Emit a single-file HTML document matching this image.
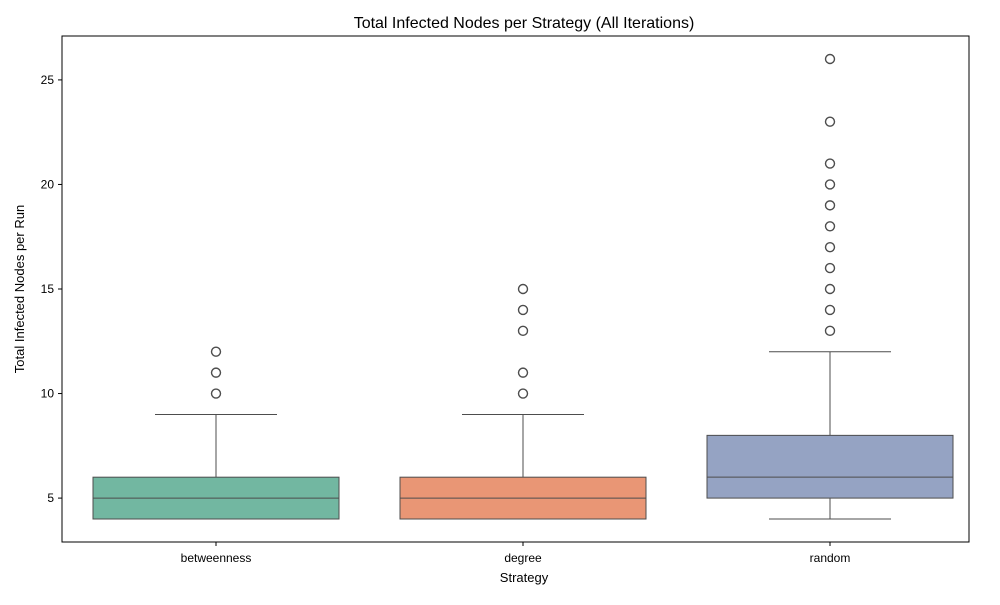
<!DOCTYPE html>
<html><head><meta charset="utf-8"><style>
body{margin:0;background:#fff;font-family:"Liberation Sans","DejaVu Sans",sans-serif}
svg text{font-family:"Liberation Sans","DejaVu Sans",sans-serif;fill:#000}
</style></head><body>
<svg id="chart" width="1000" height="600" xmlns="http://www.w3.org/2000/svg">
<rect width="1000" height="600" fill="#fff"/>
<text x="524" y="28" font-size="16" text-anchor="middle">Total Infected Nodes per Strategy (All Iterations)</text>
<text x="524" y="582" font-size="13" text-anchor="middle">Strategy</text>
<text transform="translate(24,289) rotate(-90)" font-size="13" text-anchor="middle">Total Infected Nodes per Run</text>
<g id="plot"></g>
<rect x="62" y="36" width="907" height="506" fill="none" stroke="#000" stroke-width="1"/>
</svg>
<script>
const categories = ["betweenness","degree","random"];
const q1 = [4,4,5];
const medians = [5,5,6];
const q3 = [6,6,8];
const whiskerLow = [4,4,4];
const whiskerHigh = [9,9,12];
const outliers = [[10,11,12],[10,11,13,14,15],[13,14,15,16,17,18,19,20,21,23,26]];
const colors = ["#72b7a1","#e99675","#95a3c3"];
const yTicks = [5,10,15,20,25];

const ns="http://www.w3.org/2000/svg";
const g=document.getElementById('plot');
const L=62,R=969,T=36,B=542;
const yMin=2.9,yMax=27.1;
const y=v=>B-(v-yMin)/(yMax-yMin)*(B-T);
const step=307;
const x=i=>216+step*i;
function mk(tag,attrs){const e=document.createElementNS(ns,tag);for(const k in attrs)e.setAttribute(k,attrs[k]);g.appendChild(e);return e;}
yTicks.forEach(t=>{
  const l=mk('line',{x1:L-4,x2:L,y1:y(t),y2:y(t),stroke:'#000'});
  
  
  const tx=mk('text',{x:L-8,y:y(t)+4,'font-size':12,'text-anchor':'end'});
  tx.textContent=t;
  
  
});
categories.forEach((c,i)=>{
  const cx=x(i),bw=246,cw=122;
  const tk=mk('line',{x1:cx,x2:cx,y1:B,y2:B+4,stroke:'#000'});
  
  
  const tl=mk('text',{x:cx,y:B+20,'font-size':12,'text-anchor':'middle'});
  tl.textContent=c;
  
  
  const st='#4d4d4d';
  const w1=mk('line',{x1:cx,x2:cx,y1:y(q1[i]),y2:y(whiskerLow[i]),stroke:st});
  
  
  const w2=mk('line',{x1:cx,x2:cx,y1:y(q3[i]),y2:y(whiskerHigh[i]),stroke:st});
  
  
  const c1=mk('line',{x1:cx-cw/2,x2:cx+cw/2,y1:y(whiskerLow[i]),y2:y(whiskerLow[i]),stroke:st});
  
  
  const c2=mk('line',{x1:cx-cw/2,x2:cx+cw/2,y1:y(whiskerHigh[i]),y2:y(whiskerHigh[i]),stroke:st});
  
  
  const bx=mk('rect',{x:cx-bw/2,y:y(q3[i]),width:bw,height:y(q1[i])-y(q3[i]),fill:colors[i],stroke:st});
  
  
  const md=mk('line',{x1:cx-bw/2,x2:cx+bw/2,y1:y(medians[i]),y2:y(medians[i]),stroke:st});
  
  
  outliers[i].forEach(v=>{
    const o=mk('circle',{cx:cx,cy:y(v),r:4.5,fill:'none',stroke:st,'stroke-width':1.4});
    
    
  });
});
</script>
</body></html>
